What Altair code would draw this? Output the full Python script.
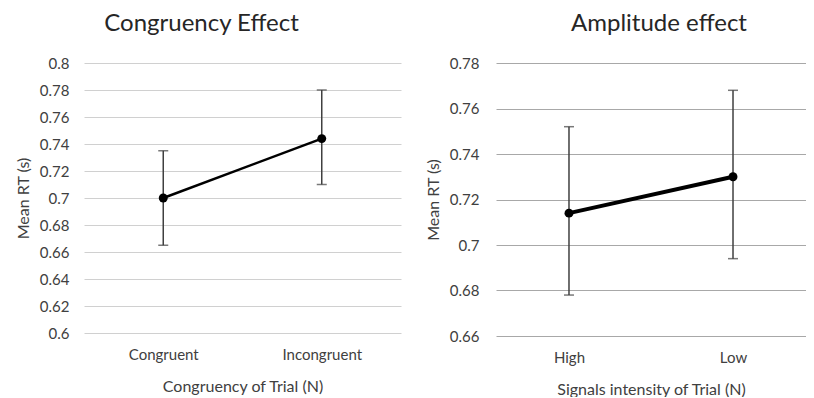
import altair as alt
import pandas as pd

FONT = "Lato"

cong_cats = ["Congruent", "Incongruent"]
cong_mean = [0.700, 0.744]
cong_lo = [0.665, 0.710]
cong_hi = [0.735, 0.780]
cong_ticks = [0.6, 0.62, 0.64, 0.66, 0.68, 0.7, 0.72, 0.74, 0.76, 0.78, 0.8]

amp_cats = ["High", "Low"]
amp_mean = [0.714, 0.730]
amp_lo = [0.678, 0.694]
amp_hi = [0.752, 0.768]
amp_ticks = [0.66, 0.68, 0.7, 0.72, 0.74, 0.76, 0.78]

TXT = "#404040"


def panel(cats, mean, lo, hi, ticks, dom, title, xtitle, w, h, xpad, lw, grid_col, lab_pad, title_dx):
    df = pd.DataFrame({"cat": cats, "mean": mean, "lo": lo, "hi": hi})
    x = alt.X("cat:N", sort=cats, scale=alt.Scale(type="point", padding=xpad),
              axis=alt.Axis(title=xtitle, labelAngle=0, domain=False, ticks=False, grid=False,
                            labelFont=FONT, labelFontSize=15, labelColor=TXT, labelPadding=14,
                            titleFont=FONT, titleFontSize=16, titleFontWeight="normal",
                            titleColor=TXT, titlePadding=16))
    yscale = alt.Scale(domain=dom, zero=False, nice=False)
    yaxis = alt.Axis(title="Mean RT (s)", values=ticks, format=".2~f", domain=False,
                     ticks=False, grid=True, gridColor=grid_col, gridWidth=1, labelOverlap=False,
                     labelFont=FONT, labelFontSize=15, labelColor=TXT, labelPadding=lab_pad,
                     titleFont=FONT, titleFontSize=16, titleFontWeight="normal",
                     titleColor=TXT, titlePadding=8)

    def Y(f):
        return alt.Y(f, type="quantitative", scale=yscale, axis=yaxis, title="Mean RT (s)")

    base = alt.Chart(df)
    err = base.mark_rule(color="#404040", strokeWidth=1.5).encode(x=x, y=Y("lo"), y2="hi:Q")
    cap_lo = base.mark_tick(color="#404040", thickness=1.5, size=10, orient="horizontal").encode(x=x, y=Y("lo"))
    cap_hi = base.mark_tick(color="#404040", thickness=1.5, size=10, orient="horizontal").encode(x=x, y=Y("hi"))
    line = base.mark_line(color="black", strokeWidth=lw).encode(x=x, y=Y("mean"))
    pts = base.mark_point(filled=True, color="black", size=80, opacity=1).encode(x=x, y=Y("mean"))
    return alt.layer(line, err, cap_lo, cap_hi, pts).properties(
        width=w, height=h,
        title=alt.TitleParams(title, font=FONT, fontSize=24, fontWeight="normal", color="#262626",
                              anchor="middle", offset=20, dx=title_dx),
    )


left = panel(cong_cats, cong_mean, cong_lo, cong_hi, cong_ticks, [0.6, 0.8],
             "Congruency Effect", "Congruency of Trial (N)", 317, 270, 0.5, 2.5, "#d0d0d0", 15, -41)
right = panel(amp_cats, amp_mean, amp_lo, amp_hi, amp_ticks, [0.66, 0.78],
              "Amplitude effect", "Signals intensity of Trial (N)", 310, 273, 0.445, 4, "#a8a8a8", 17, 8)

chart = alt.hconcat(left, right, spacing=24).properties(
    padding={"left": 7, "top": 4, "right": 0, "bottom": 0},
    background="white",
).configure_view(stroke=None, strokeWidth=0)

chart.save("out.html", embed_options={"renderer": "svg", "actions": False})
